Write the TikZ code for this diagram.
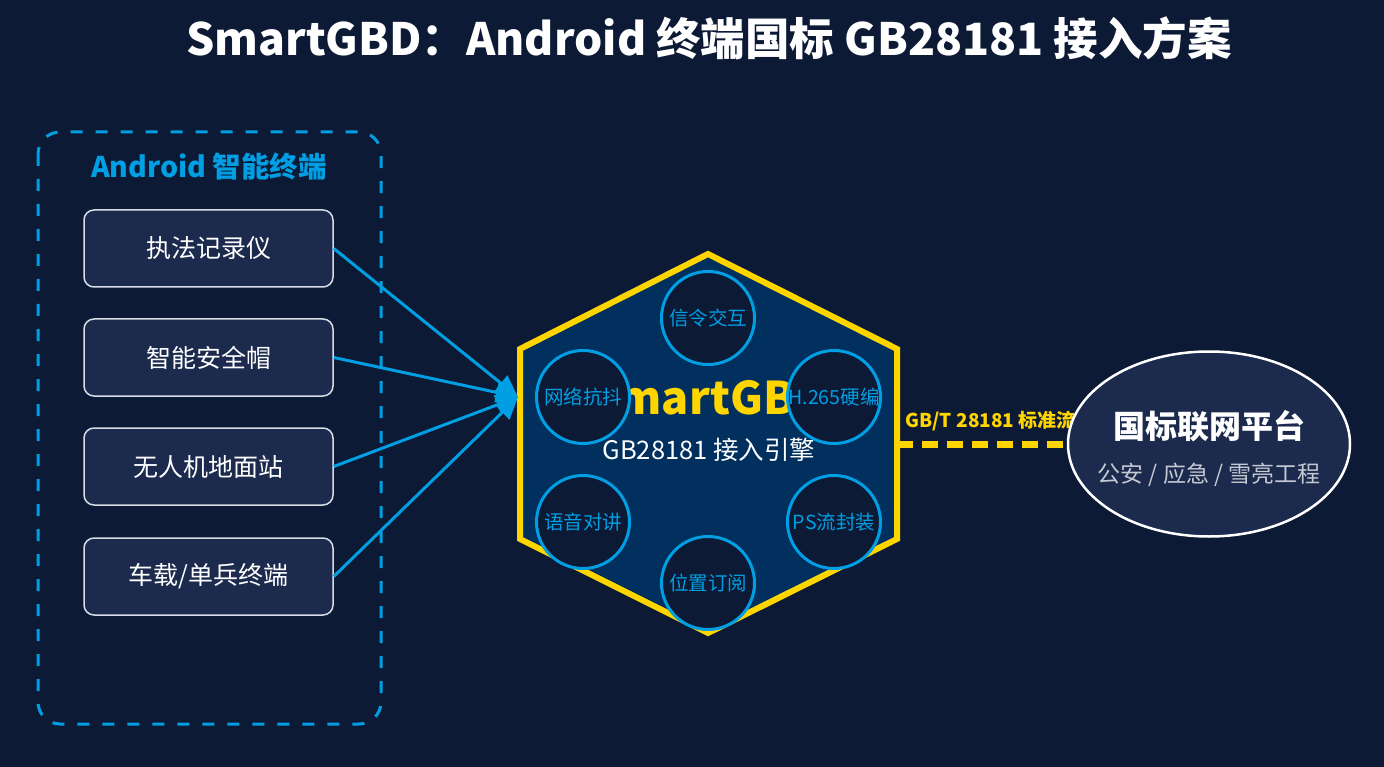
\documentclass[tikz,border=0pt]{standalone}
\usepackage{fontspec}
\setmainfont{Noto Sans CJK SC}
\usetikzlibrary{arrows.meta,shapes.geometric}
\definecolor{bg}{HTML}{0C1A36}
\definecolor{boxfill}{HTML}{1C2A4E}
\definecolor{hexfill}{HTML}{01305F}
\definecolor{sky}{HTML}{009FE3}
\definecolor{gold}{HTML}{FFD500}
\definecolor{edgegray}{HTML}{D8DCE4}
\definecolor{subgray}{HTML}{C4C9D2}
\tikzset{
  devbox/.style={draw=edgegray, line width=1.5pt, fill=boxfill, rounded corners=10pt,
    minimum width=249pt, minimum height=77pt, inner sep=0pt, text=white, font=\fontsize{25}{28}\selectfont},
  func/.style={circle, draw=sky, line width=3pt, fill=bg, minimum size=93pt, inner sep=0pt,
    text=sky, font=\fontsize{19.5}{22}\selectfont},
  feed/.style={draw=sky, line width=3pt, -{Triangle[length=22pt,width=20pt]}},
}
\begin{document}
\begin{tikzpicture}[x=1pt,y=-1pt]
\useasboundingbox (0,0) rectangle (1384,767);
\fill[bg] (0,0) rectangle (1384,767);
% title
\node[text=white, font=\bfseries\fontsize{44.5}{50}\selectfont] (title) at (709,38) {SmartGBD：Android 终端国标 GB28181 接入方案};
% left dashed group
\draw[sky, line width=3pt, dash pattern=on 12pt off 13pt, rounded corners=22pt] (38,132) rectangle (381,724);
\node[text=sky, font=\bfseries\fontsize{28.5}{32}\selectfont] (grp) at (209,167) {Android 智能终端};
\node[devbox] (d1) at (208.5,248.5) {执法记录仪};
\node[devbox] (d2) at (208.5,357.5) {智能安全帽};
\node[devbox] (d3) at (208.5,466.5) {无人机地面站};
\node[devbox] (d4) at (208.5,576.5) {车载/单兵终端};
% hexagon
\coordinate (hexL) at (518,397);
\coordinate (hexR) at (897,444);
\coordinate (hexC) at (708,444);
\draw[gold, line width=6pt, fill=hexfill, line join=miter]
  (708,254) -- (897,349) -- (897,539) -- (708,633) -- (520,539) -- (520,349) -- cycle;
% connectors
\draw[feed] (d1.east) -- (hexL);
\draw[feed] (d2.east) -- (hexL);
\draw[feed] (d3.east) -- (hexL);
\draw[feed] (d4.east) -- (hexL);
% central text
\node[text=gold, font=\bfseries\fontsize{45}{50}\selectfont] (brand) at (708,398) {SmartGBD};
\node[text=white, font=\fontsize{25.5}{28}\selectfont] (engine) at (709,450) {GB28181 接入引擎};
% function circles
\node[func] (f1) at (708,318) {信令交互};
\node[func] (f2) at (583,397) {网络抗抖};
\node[func] (f3) at (834,397) {H.265硬编};
\node[func] (f4) at (583,522) {语音对讲};
\node[func] (f5) at (834,522) {PS流封装};
\node[func] (f6) at (708,583) {位置订阅};
% right link
\node[anchor=west, text=gold, font=\bfseries\fontsize{19}{22}\selectfont] (lbl) at (902,421) {GB/T 28181 标准流};
\node[ellipse, draw=white, line width=2.5pt, fill=boxfill, minimum width=282pt, minimum height=185pt, inner sep=0pt] (plat) at (1209,444) {};
\draw[gold, line width=7pt, dash pattern=on 16pt off 9pt] (hexR) -- (plat.west);
\node[text=white, font=\bfseries\fontsize{32}{36}\selectfont] (platT) at (1209,426) {国标联网平台};
\node[text=subgray, font=\fontsize{23}{26}\selectfont] (platS) at (1209,475) {公安 / 应急 / 雪亮工程};
\end{tikzpicture}
\end{document}
